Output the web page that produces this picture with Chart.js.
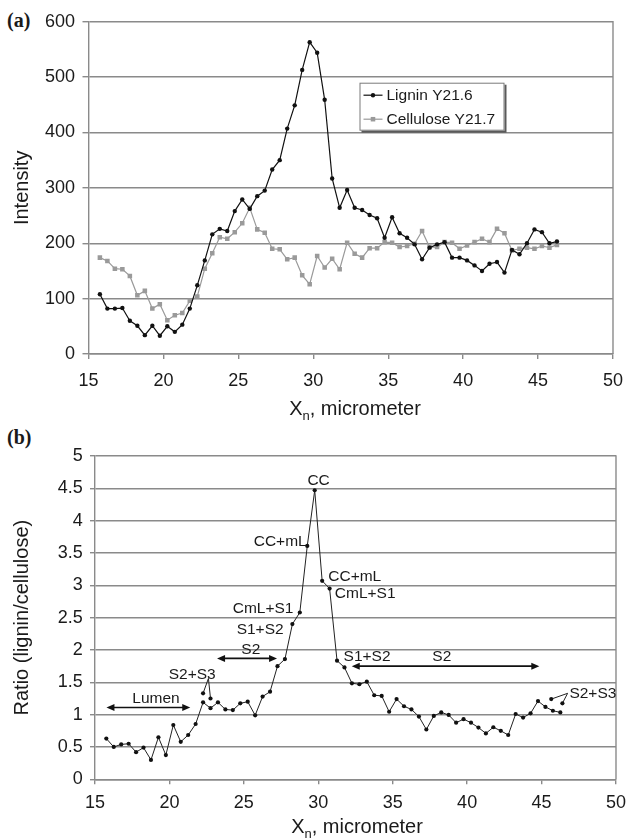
<!DOCTYPE html>
<html>
<head>
<meta charset="utf-8">
<title>Lignin and cellulose Raman profiles</title>
<script src="https://cdn.jsdelivr.net/npm/chart.js@4.4.1/dist/chart.umd.min.js"></script>
<style>
  html, body { margin: 0; padding: 0; background: #fff; }
  #page { position: relative; width: 634px; height: 839px; overflow: hidden;
          font-family: "Liberation Sans", Arial, sans-serif; color: #1a1a1a; }
  canvas { position: absolute; left: 0; }
  .panel { position: absolute; font-family: "Liberation Serif", "Times New Roman", serif;
           font-weight: bold; font-size: 20px; line-height: 20px; }
  .xtitle { position: absolute; font-size: 20px; line-height: 20px; white-space: nowrap;
            transform: translate(-50%, -50%); }
  .xtitle sub { font-size: 13px; vertical-align: -5px; line-height: 0; }
</style>
</head>
<body>
<div id="page">
  <div class="panel" style="left:7px;top:10px">(a)</div>
  <canvas id="profile" width="634" height="420" style="top:0;width:634px;height:420px"></canvas>
  <div class="xtitle" style="left:355px;top:408px">X<sub>n</sub>, micrometer</div>

  <div class="panel" style="left:7px;top:427px">(b)</div>
  <canvas id="ratioChart" width="634" height="419" style="top:420px;width:634px;height:419px"></canvas>
  <div class="xtitle" style="left:357px;top:826px">X<sub>n</sub>, micrometer</div>
</div>

<script>
// ---- measured positions along the cell-wall transect (micrometer) ----
const positions = [
  15.76, 16.26, 16.76, 17.26, 17.76, 18.26, 18.76, 19.26, 19.76, 20.26,
  20.76, 21.26, 21.76, 22.26, 22.76, 23.26, 23.76, 24.26, 24.76, 25.26,
  25.76, 26.26, 26.76, 27.26, 27.76, 28.26, 28.76, 29.26, 29.76, 30.26,
  30.76, 31.26, 31.76, 32.26, 32.76, 33.26, 33.76, 34.26, 34.76, 35.26,
  35.76, 36.26, 36.76, 37.26, 37.76, 38.26, 38.76, 39.26, 39.76, 40.26,
  40.76, 41.26, 41.76, 42.26, 42.76, 43.26, 43.76, 44.26, 44.76, 45.26,
  45.76, 46.26
];

// ---- band intensities ----
const lignin = [
  108, 82, 82, 83, 60, 51, 34, 51, 33, 50,
  40, 53, 82, 124, 169, 216, 226, 222, 258, 279,
  262, 285, 295, 333, 350, 407, 449, 513, 563, 544,
  459, 317, 264, 296, 264, 260, 251, 245, 210, 247,
  218, 210, 198, 171, 192, 198, 202, 174, 174, 169,
  160, 150, 163, 166, 147, 188, 180, 200, 225, 220,
  200, 203
];
const cellulose = [
  174, 168, 154, 153, 141, 106, 114, 82, 90, 61,
  70, 74, 96, 104, 154, 182, 211, 208, 220, 236,
  264, 225, 219, 190, 189, 171, 174, 142, 126, 177,
  156, 172, 153, 201, 181, 174, 191, 191, 202, 201,
  193, 195, 199, 222, 193, 193, 202, 201, 190, 196,
  202, 208, 202, 226, 218, 187, 190, 192, 190, 195,
  192, 197
];

// ---- lignin / cellulose ratio ----
const ratio = [
  0.63, 0.50, 0.54, 0.55, 0.42, 0.49, 0.30, 0.65, 0.375, 0.84,
  0.58, 0.685, 0.855, 1.19, 1.10, 1.19, 1.08, 1.07, 1.175, 1.20,
  0.99, 1.28, 1.355, 1.75, 1.86, 2.40, 2.58, 3.61, 4.47, 3.07,
  2.95, 1.835, 1.73, 1.485, 1.47, 1.51, 1.30, 1.29, 1.045, 1.24,
  1.13, 1.08, 0.97, 0.77, 0.98, 1.035, 0.995, 0.875, 0.93, 0.875,
  0.80, 0.71, 0.805, 0.75, 0.685, 1.01, 0.955, 1.02, 1.21, 1.12,
  1.06, 1.035
];

// ---- S2+S3 callout points and their leader lines ----
const s2s3LeftX  = [22.26, 22.62, 22.76];
const s2s3LeftY  = [1.33, 1.56, 1.25];
const s2s3RightX = [45.65, 46.75, 46.40];
const s2s3RightY = [1.24, 1.33, 1.175];

// ---- axis ticks ----
const xTicks = [15, 20, 25, 30, 35, 40, 45, 50];
const intensityTicks = [0, 100, 200, 300, 400, 500, 600];
const ratioTicks = [0, 0.5, 1, 1.5, 2, 2.5, 3, 3.5, 4, 4.5, 5];

// ---- wall-layer labels (text, x, y, alignment) ----
const layerText  = ['CC', 'CC+mL', 'CmL+S1', 'S1+S2', 'CC+mL', 'CmL+S1', 'S1+S2', 'S2', 'S2', 'Lumen', 'S2+S3', 'S2+S3'];
const layerX     = [30.02, 29.22, 28.33, 27.67, 30.67, 31.11, 31.70, 38.30, 25.47, 19.10, 21.53, 46.87];
const layerY     = [4.62, 3.67, 2.645, 2.32, 3.14, 2.87, 1.89, 1.89, 2.00, 1.25, 1.61, 1.33];
const layerAlign = ['center', 'right', 'right', 'right', 'left', 'left', 'left', 'center', 'center', 'center', 'center', 'left'];

// ---- extent arrows (from, to, level) ----
const spanFrom = [15.77, 23.20, 32.25];
const spanTo   = [21.40, 27.23, 44.85];
const spanAt   = [1.11, 1.87, 1.75];

const FONT = '"Liberation Sans", Arial, sans-serif';
const INK = '#1a1a1a';
const GRID = '#8a8a8a';

const pairs = (xs, ys) => xs.map((x, i) => ({ x: x, y: ys[i] }));

// right-hand edge of the plot frame
const frameEdge = {
  id: 'frameEdge',
  beforeDatasetsDraw(chart) {
    const { ctx, chartArea: a } = chart;
    ctx.save();
    ctx.strokeStyle = GRID;
    ctx.lineWidth = 1.4;
    ctx.beginPath();
    ctx.moveTo(a.right, a.top - 0.7);
    ctx.lineTo(a.right, a.bottom);
    ctx.stroke();
    ctx.restore();
  }
};

function drawMarker(ctx, style, r, x, y, color) {
  ctx.fillStyle = color;
  if (style === 'rect') {
    const s = Math.SQRT1_2 * r;
    ctx.fillRect(x - s, y - s, 2 * s, 2 * s);
  } else {
    ctx.beginPath();
    ctx.arc(x, y, r, 0, Math.PI * 2);
    ctx.fill();
  }
}

// framed legend with a drop shadow, placed inside the plot
const boxedLegend = {
  id: 'boxedLegend',
  afterDraw(chart, args, opts) {
    const { ctx } = chart;
    const { x, y, w, h } = opts;
    ctx.save();
    ctx.fillStyle = '#5a5a5a';
    ctx.fillRect(x + 2, y + 2, w, h);
    ctx.fillStyle = '#fff';
    ctx.fillRect(x, y, w, h);
    ctx.strokeStyle = '#7a7a7a';
    ctx.lineWidth = 1;
    ctx.strokeRect(x + 0.5, y + 0.5, w - 1, h - 1);
    ctx.font = '15.5px ' + FONT;
    ctx.textBaseline = 'middle';
    ctx.textAlign = 'left';
    chart.data.datasets.forEach((ds, i) => {
      const cy = y + 12.5 + i * 24;
      ctx.strokeStyle = ds.borderColor;
      ctx.lineWidth = ds.borderWidth;
      ctx.beginPath();
      ctx.moveTo(x + 4, cy);
      ctx.lineTo(x + 23, cy);
      ctx.stroke();
      drawMarker(ctx, ds.pointStyle, ds.pointRadius, x + 13.5, cy, ds.pointBackgroundColor);
      ctx.fillStyle = INK;
      ctx.fillText(ds.label, x + 27, cy + 1);
    });
    ctx.restore();
  }
};

// wall-layer labels and extent arrows for the ratio profile
const layerNotes = {
  id: 'layerNotes',
  afterDatasetsDraw(chart) {
    const { ctx, scales: { x, y } } = chart;
    ctx.save();
    ctx.fillStyle = INK;
    ctx.font = '15.5px ' + FONT;
    ctx.textBaseline = 'middle';
    layerText.forEach((t, i) => {
      ctx.textAlign = layerAlign[i];
      ctx.fillText(t, x.getPixelForValue(layerX[i]), y.getPixelForValue(layerY[i]));
    });
    ctx.strokeStyle = '#111';
    ctx.fillStyle = '#111';
    ctx.lineWidth = 1.6;
    spanFrom.forEach((f, i) => {
      const x1 = x.getPixelForValue(f);
      const x2 = x.getPixelForValue(spanTo[i]);
      const py = y.getPixelForValue(spanAt[i]);
      ctx.beginPath();
      ctx.moveTo(x1 + 6, py);
      ctx.lineTo(x2 - 6, py);
      ctx.stroke();
      [[x1, 1], [x2, -1]].forEach(([px, d]) => {
        ctx.beginPath();
        ctx.moveTo(px, py);
        ctx.lineTo(px + d * 8, py - 3.5);
        ctx.lineTo(px + d * 8, py + 3.5);
        ctx.closePath();
        ctx.fill();
      });
    });
    ctx.restore();
  }
};

function xAxis(height, padding) {
  return {
    type: 'linear',
    min: 15, max: 50,
    afterBuildTicks: s => { s.ticks = xTicks.map(v => ({ value: v })); },
    afterFit: s => { s.height = height; },
    grid: { drawOnChartArea: false, drawTicks: true, tickLength: 5, color: GRID, lineWidth: 1.4 },
    border: { display: true, color: GRID, width: 1.4 },
    ticks: { color: INK, font: { family: FONT, size: 18 }, padding: padding, maxRotation: 0,
             callback: v => String(v) }
  };
}

function yAxis(width, lo, hi, tickValues, title, tickLen, padding) {
  return {
    type: 'linear',
    min: lo, max: hi,
    afterBuildTicks: s => { s.ticks = tickValues.map(v => ({ value: v })); },
    afterFit: s => { s.width = width; },
    grid: { color: GRID, lineWidth: 1.4, drawTicks: true, tickLength: tickLen },
    border: { display: true, color: GRID, width: 1.4 },
    ticks: { color: INK, font: { family: FONT, size: 18 }, padding: padding,
             callback: v => String(v) },
    title: { display: true, text: title, color: INK, font: { family: FONT, size: 20 }, padding: { top: 10, bottom: 0 } }
  };
}

Chart.defaults.animation = false;
Chart.defaults.font.family = FONT;

new Chart(document.getElementById('profile'), {
  type: 'line',
  data: {
    datasets: [
      {
        label: 'Lignin Y21.6',
        data: pairs(positions, lignin),
        borderColor: '#111', borderWidth: 1.2,
        pointStyle: 'circle', pointRadius: 2.2,
        pointBackgroundColor: '#111', pointBorderWidth: 0,
        tension: 0
      },
      {
        label: 'Cellulose Y21.7',
        data: pairs(positions, cellulose),
        borderColor: '#9a9a9a', borderWidth: 1.2,
        pointStyle: 'rect', pointRadius: 3.2,
        pointBackgroundColor: '#9a9a9a', pointBorderWidth: 0,
        tension: 0
      }
    ]
  },
  options: {
    responsive: false,
    events: [],
    layout: { padding: { left: 0, right: 12.5, top: 21.7, bottom: 30 } },
    scales: {
      x: xAxis(36, 11),
      y: yAxis(88.5, 0, 600, intensityTicks, 'Intensity', 6, 7.5)
    },
    plugins: {
      legend: { display: false },
      tooltip: { enabled: false },
      boxedLegend: { x: 359.5, y: 82.7, w: 145, h: 48 }
    }
  },
  plugins: [frameEdge, boxedLegend]
});

new Chart(document.getElementById('ratioChart'), {
  type: 'line',
  data: {
    datasets: [
      {
        label: 'Ratio',
        data: pairs(positions, ratio),
        borderColor: '#222', borderWidth: 1,
        pointStyle: 'circle', pointRadius: 2.1,
        pointBackgroundColor: '#111', pointBorderWidth: 0,
        tension: 0
      },
      {
        label: 'S2+S3 (inner)',
        data: pairs(s2s3LeftX, s2s3LeftY),
        borderColor: '#222', borderWidth: 1,
        pointRadius: [2.1, 0, 2.1],
        pointBackgroundColor: '#111', pointBorderWidth: 0,
        tension: 0
      },
      {
        label: 'S2+S3 (outer)',
        data: pairs(s2s3RightX, s2s3RightY),
        borderColor: '#222', borderWidth: 1,
        pointRadius: [2.1, 0, 2.1],
        pointBackgroundColor: '#111', pointBorderWidth: 0,
        tension: 0
      }
    ]
  },
  options: {
    responsive: false,
    events: [],
    layout: { padding: { left: 0, right: 14, top: 36, bottom: 23.7 } },
    scales: {
      x: xAxis(36, 8),
      y: yAxis(95, 0, 5, ratioTicks, 'Ratio (lignin/cellulose)', 5, 7.3)
    },
    plugins: {
      legend: { display: false },
      tooltip: { enabled: false }
    }
  },
  plugins: [frameEdge, layerNotes]
});
</script>
</body>
</html>
